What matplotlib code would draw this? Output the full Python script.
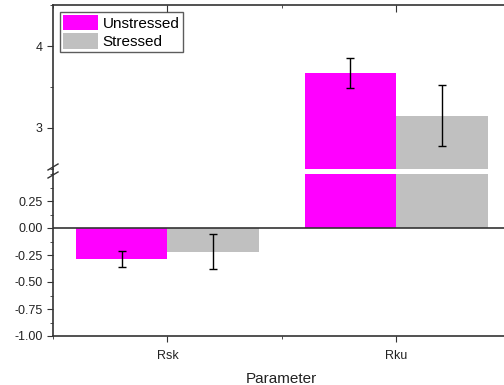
import numpy as np
import matplotlib
matplotlib.use("Agg")
import matplotlib.pyplot as plt
from matplotlib.lines import Line2D
from matplotlib.patches import Patch
from matplotlib.ticker import MultipleLocator

plt.rcParams["font.family"] = ["Liberation Sans", "DejaVu Sans"]

# ============================================================
# DATA
# ============================================================

categories = ["Rsk", "Rku"]
groups = ["Unstressed", "Stressed"]
unstressed_mean = [-0.285, 3.67]
unstressed_err = [0.075, 0.18]
stressed_mean = [-0.22, 3.15]
stressed_err = [0.16, 0.37]

colors = {"Unstressed": "#FF00FF", "Stressed": "#C0C0C0"}

# ============================================================
# LAYOUT: broken y axis -> two stacked axes
# ============================================================

W, H = 504, 385
fig = plt.figure(figsize=(W / 100, H / 100), dpi=100)

left = 53 / W
width = (510.5 - 53) / W
ax_top = fig.add_axes([left, 1 - 169 / H, width, 164 / H])
ax_bot = fig.add_axes([left, 1 - 336 / H, width, 162 / H])

x = np.arange(len(categories))
bar_w = 0.4
spine_col = "#333333"

for ax in (ax_top, ax_bot):
    ax.bar(x - bar_w / 2, unstressed_mean, bar_w, color=colors["Unstressed"],
           yerr=unstressed_err, capsize=3,
           error_kw=dict(ecolor="black", elinewidth=1, capthick=1))
    ax.bar(x + bar_w / 2, stressed_mean, bar_w, color=colors["Stressed"],
           yerr=stressed_err, capsize=3,
           error_kw=dict(ecolor="black", elinewidth=1, capthick=1))
    ax.set_xlim(-0.5, 1.5)
    for s in ax.spines.values():
        s.set_color(spine_col)
        s.set_linewidth(1.2)
    ax.tick_params(axis="y", which="major", direction="out", length=4,
                   labelsize=9, color=spine_col, labelcolor="#222222")
    ax.tick_params(axis="y", which="minor", direction="out", length=2,
                   color=spine_col)

# upper panel
ax_top.set_ylim(2.5, 4.5)
ax_top.yaxis.set_major_locator(MultipleLocator(1))
ax_top.yaxis.set_minor_locator(MultipleLocator(0.5))
ax_top.spines["bottom"].set_visible(False)
ax_top.set_xticks(x)
ax_top.xaxis.set_minor_locator(MultipleLocator(0.5))
ax_top.tick_params(axis="x", which="both", bottom=False, labelbottom=False,
                   top=True, direction="in", color=spine_col)
ax_top.tick_params(axis="x", which="major", length=5)
ax_top.tick_params(axis="x", which="minor", length=2)

# lower panel
ax_bot.set_ylim(-1.0, 0.5)
ax_bot.yaxis.set_minor_locator(MultipleLocator(0.125))
ax_bot.set_yticks([-1.0, -0.75, -0.5, -0.25, 0.0, 0.25])
ax_bot.yaxis.set_major_formatter(plt.FormatStrFormatter("%.2f"))
ax_bot.spines["top"].set_visible(False)
ax_bot.axhline(0, color=spine_col, linewidth=1.2, zorder=3)
ax_bot.set_xticks(x)
ax_bot.set_xticklabels(categories)
ax_bot.xaxis.set_minor_locator(MultipleLocator(0.5))
ax_bot.tick_params(axis="x", which="major", direction="out", length=4,
                   labelsize=9, pad=6, color=spine_col, labelcolor="#222222")
ax_bot.tick_params(axis="x", which="minor", direction="out", length=2,
                   color=spine_col)
ax_bot.set_xlabel("Parameter", fontsize=11, labelpad=7, color="#222222")

# left spine through the gap + break marks
fig.add_artist(Line2D([left, left], [1 - 174 / H, 1 - 169 / H],
                      color=spine_col, linewidth=1.2))
for yb in (167, 175):
    fig.add_artist(Line2D([left - 5 / W, left + 5 / W],
                          [1 - (yb + 3) / H, 1 - (yb - 3) / H],
                          color=spine_col, linewidth=1.0))

# legend
handles = [Patch(facecolor=colors[g], edgecolor="none") for g in groups]
leg = ax_top.legend(handles, groups, loc="upper left",
                    bbox_to_anchor=(0.015, 0.96), fontsize=11,
                    frameon=True, fancybox=False, borderpad=0.2,
                    handlelength=2.3, handleheight=1.2, handletextpad=0.3,
                    labelspacing=0.15, borderaxespad=0)
leg.get_frame().set_edgecolor(spine_col)
leg.get_frame().set_linewidth(1.0)

fig.savefig("out.png", dpi=100)
